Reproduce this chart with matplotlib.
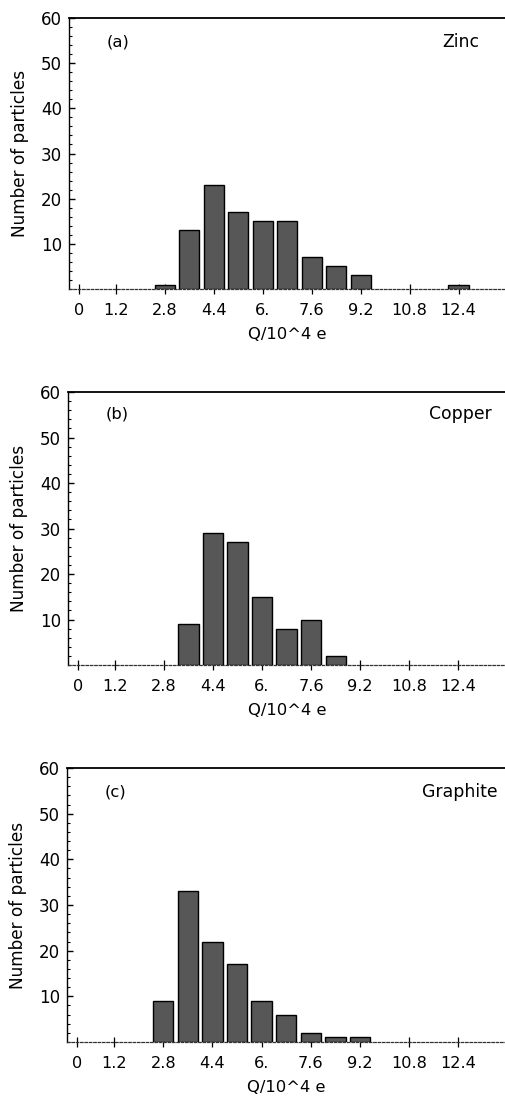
import numpy as np
import matplotlib
matplotlib.use("Agg")
import matplotlib.pyplot as plt
from matplotlib.ticker import MultipleLocator

plt.rcParams['font.family'] = ['DejaVu Sans']

# bin centres of the charge histogram (units of 10^4 e)
centres = [2.8, 3.6, 4.4, 5.2, 6.0, 6.8, 7.6, 8.4, 9.2, 12.4]
zinc = [1, 13, 23, 17, 15, 15, 7, 5, 3, 1]
copper = [0, 9, 29, 27, 15, 8, 10, 2, 0, 0]
graphite = [9, 33, 22, 17, 9, 6, 2, 1, 1, 0]

tick_pos = [0, 1.2, 2.8, 4.4, 6.0, 7.6, 9.2, 10.8, 12.4]
tick_lbl = ["0", "1.2", "2.8", "4.4", "6.", "7.6", "9.2", "10.8", "12.4"]

panels = [
    ("(a)", "Zinc", zinc, [0.1364, 0.7370, 0.8636, 0.2466], 0.854, 0.911),
    ("(b)", "Copper", copper, [0.1340, 0.3949, 0.8660, 0.2484], 0.824, 0.919),
    ("(c)", "Graphite", graphite, [0.1324, 0.0519, 0.8676, 0.2493], 0.809, 0.912),
]

fig = plt.figure(figsize=(5.06, 10.99), dpi=100)

for tag, name, counts, pos, name_x, txt_y in panels:
    ax = fig.add_axes(pos)
    c = np.array(centres)
    h = np.array(counts)
    keep = h > 0
    ax.bar(c[keep], h[keep], width=0.66, color='#575757', edgecolor='black',
           linewidth=1.0, zorder=3)

    ax.set_xlim(-0.33, 13.95)
    ax.set_ylim(0, 60)
    ax.set_xticks(tick_pos)
    ax.set_xticklabels(tick_lbl)
    ax.set_yticks([10, 20, 30, 40, 50, 60])
    ax.yaxis.set_minor_locator(MultipleLocator(2))

    ax.spines['right'].set_visible(False)
    ax.spines['top'].set_linewidth(1.3)
    ax.spines['left'].set_linewidth(1.0)
    ax.spines['bottom'].set_linewidth(0.9)
    ax.spines['bottom'].set_linestyle((0, (2, 1.5)))
    ax.spines['bottom'].set_color('#333333')

    ax.tick_params(axis='x', direction='inout', length=7, width=0.9,
                   labelsize=11.6, pad=6.3)
    ax.tick_params(axis='y', which='major', direction='in', length=4,
                   width=1.0, labelsize=12, pad=5)
    ax.tick_params(axis='y', which='minor', direction='in', length=2,
                   width=0.8)

    ax.set_xlabel("Q/10^4 e", fontsize=11.8, labelpad=7)
    ax.set_ylabel("Number of particles", fontsize=12.2, labelpad=8.5)
    ax.text(0.086, txt_y, tag, transform=ax.transAxes, fontsize=11.8,
            ha='left', va='center')
    ax.text(name_x, txt_y, name, transform=ax.transAxes, fontsize=12.4,
            ha='left', va='center')

fig.savefig("out.png", dpi=100)
